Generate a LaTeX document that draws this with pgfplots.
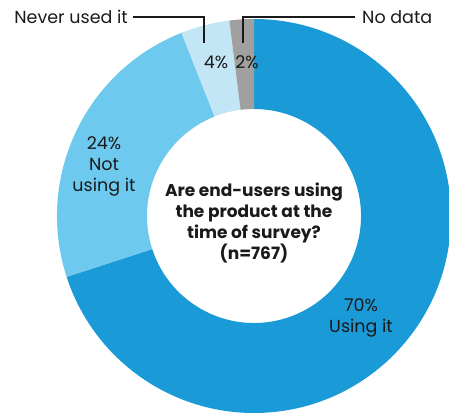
\documentclass[border=0pt]{standalone}
\usepackage{pgfplots}
\usepackage{pgfplotstable}
\pgfplotsset{compat=1.18}
\usepackage{fontspec}
\setmainfont{Poppins}
\definecolor{cUse}{HTML}{1A9AD6}
\definecolor{cNot}{HTML}{6DC9EE}
\definecolor{cNever}{HTML}{C2E6F6}
\definecolor{cNo}{HTML}{A0A09F}
\definecolor{txt}{HTML}{1A1A1A}
\pgfplotstableread{
label value
Using 70
Not 24
Never 4
Nodata 2
}\datatable
\begin{document}
\begin{tikzpicture}
\pgfplotstablegetelem{0}{value}\of\datatable \pgfmathsetmacro{\vA}{\pgfplotsretval}
\pgfplotstablegetelem{1}{value}\of\datatable \pgfmathsetmacro{\vB}{\pgfplotsretval}
\pgfplotstablegetelem{2}{value}\of\datatable \pgfmathsetmacro{\vC}{\pgfplotsretval}
\pgfplotstablegetelem{3}{value}\of\datatable \pgfmathsetmacro{\vD}{\pgfplotsretval}
\pgfmathsetmacro{\aO}{90}
\pgfmathsetmacro{\aA}{90-3.6*\vA}
\pgfmathsetmacro{\aB}{\aA-3.6*\vB}
\pgfmathsetmacro{\aC}{\aB-3.6*\vC}
\pgfmathsetmacro{\aD}{\aC-3.6*\vD}
\def\R{197}
\def\r{107}
\begin{axis}[x=1pt,y=1pt,disabledatascaling,
  xmin=-254,xmax=195,ymin=-201,ymax=216,
  hide axis, clip=true, clip bounding box=upper bound,
  font=\fontsize{17.5}{21}\selectfont]
\addplot[draw=none] coordinates {(0,0)};
\path (axis cs:-254,-201) rectangle (axis cs:195,216);
\fill[cUse] (axis cs:{\R*cos(\aO)},{\R*sin(\aO)}) arc[start angle=\aO,end angle=\aA,radius=\R pt]
   -- (axis cs:{\r*cos(\aA)},{\r*sin(\aA)}) arc[start angle=\aA,end angle=\aO,radius=\r pt] -- cycle;
\fill[cNot] (axis cs:{\R*cos(\aA)},{\R*sin(\aA)}) arc[start angle=\aA,end angle=\aB,radius=\R pt]
   -- (axis cs:{\r*cos(\aB)},{\r*sin(\aB)}) arc[start angle=\aB,end angle=\aA,radius=\r pt] -- cycle;
\fill[cNever] (axis cs:{\R*cos(\aB)},{\R*sin(\aB)}) arc[start angle=\aB,end angle=\aC,radius=\R pt]
   -- (axis cs:{\r*cos(\aC)},{\r*sin(\aC)}) arc[start angle=\aC,end angle=\aB,radius=\r pt] -- cycle;
\fill[cNo] (axis cs:{\R*cos(\aC)},{\R*sin(\aC)}) arc[start angle=\aC,end angle=\aD,radius=\R pt]
   -- (axis cs:{\r*cos(\aD)},{\r*sin(\aD)}) arc[start angle=\aD,end angle=\aC,radius=\r pt] -- cycle;
\draw[txt,line width=1.2pt] (axis cs:-121,199) -- (axis cs:-50,199) -- (axis cs:-50,173);
\draw[txt,line width=1.2pt] (axis cs:-11,173) -- (axis cs:-11,199) -- (axis cs:101,199);
\node[txt,anchor=base east,inner sep=0pt] at (axis cs:-126,192) {Never used it};
\node[txt,anchor=base west,inner sep=0pt] at (axis cs:108,192) {No data};
\node[txt,inner sep=0pt] at (axis cs:-38,154) {4\%};
\node[txt,inner sep=0pt] at (axis cs:-7,154) {2\%};
\node[txt,align=center,inner sep=0pt] at (axis cs:-150,50) {24\%\\Not\\using it};
\node[txt,align=center,inner sep=0pt] at (axis cs:107,-102) {70\%\\Using it};
\node[txt,align=center,inner sep=0pt,font=\fontsize{17}{20.7}\selectfont\bfseries] at (axis cs:0,-7) {Are end-users using\\the product at the\\time of survey?\\(n=767)};
\end{axis}
\end{tikzpicture}
\end{document}
